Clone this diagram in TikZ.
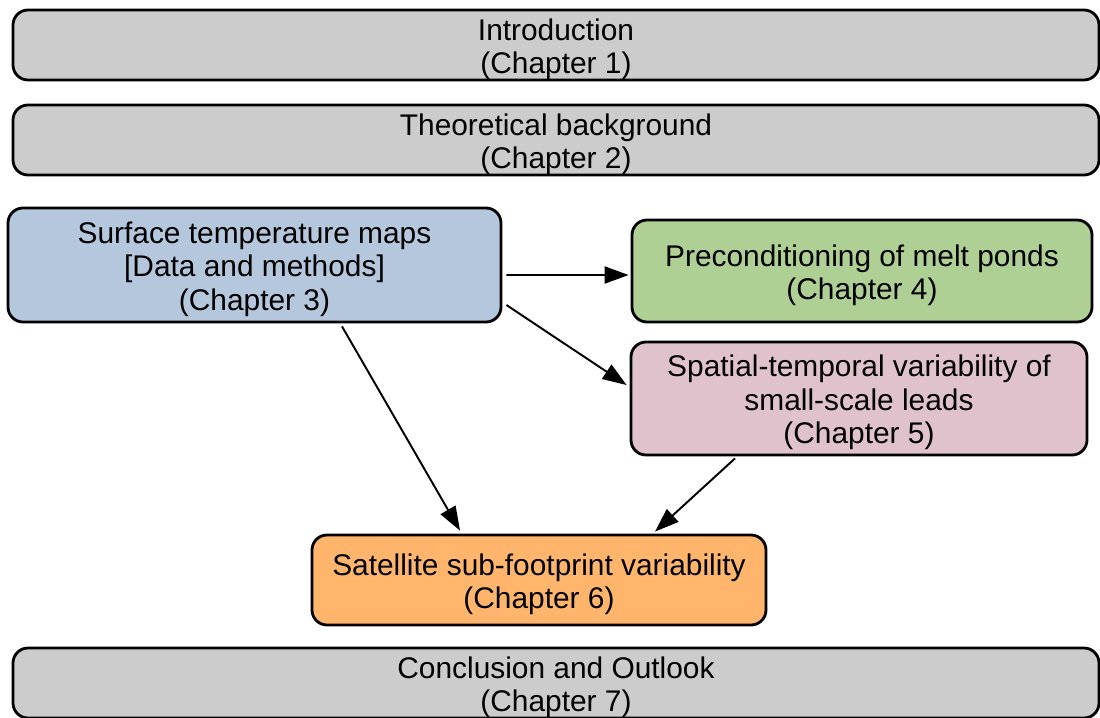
\documentclass[tikz,border=0pt]{standalone}
\usepackage{fontspec}
\setmainfont{Liberation Sans}
\usetikzlibrary{arrows.meta}
\definecolor{chapgray}{HTML}{CCCCCC}
\definecolor{chapblue}{HTML}{B4C7DC}
\definecolor{chapgreen}{HTML}{AFD095}
\definecolor{chappink}{HTML}{E0C2CD}
\definecolor{chaporange}{HTML}{FFB66C}
\newcommand{\chapstrut}{\rule{0pt}{17pt}}

\begin{document}
\begin{tikzpicture}[
        chapbox/.style={draw, line width=1.6pt, rounded corners=0.3cm, align=center,
            inner sep=0pt, font=\fontsize{17}{19}\selectfont},
        flow/.style={line width=1.1pt, -{Triangle[length=0.48cm, width=0.34cm]}}
    ]
    \useasboundingbox (0, 0) rectangle (22, -14.34);
    \node[chapbox, fill=chapgray, minimum width=21.72cm, minimum height=1.4cm] (intro) at (11.12, -0.9)
        {\chapstrut Introduction\\(Chapter 1)};
    \node[chapbox, fill=chapgray, minimum width=21.72cm, minimum height=1.4cm] (theory) at (11.12, -2.8)
        {\chapstrut Theoretical background\\(Chapter 2)};
    \node[chapbox, fill=chapblue, minimum width=9.86cm, minimum height=2.28cm] (surface) at (5.09, -5.3)
        {\chapstrut Surface temperature maps\\{[Data and methods]}\\(Chapter 3)};
    \node[chapbox, fill=chapgreen, minimum width=9.2cm, minimum height=2.04cm] (melt) at (17.24, -5.42)
        {\chapstrut Preconditioning of melt ponds\\(Chapter 4)};
    \node[chapbox, fill=chappink, minimum width=9.12cm, minimum height=2.26cm] (leads) at (17.18, -7.97)
        {\chapstrut Spatial-temporal variability of\\small-scale leads\\(Chapter 5)};
    \node[chapbox, fill=chaporange, minimum width=9.08cm, minimum height=1.8cm] (footprint) at (10.78, -11.6)
        {\chapstrut Satellite sub-footprint variability\\(Chapter 6)};
    \node[chapbox, fill=chapgray, minimum width=21.72cm, minimum height=1.4cm] (outlook) at (11.12, -13.66)
        {\chapstrut Conclusion and Outlook\\(Chapter 7)};

    \draw[flow] ([shift={(0.08, -0.2)}]surface.east) -- ([shift={(-0.04, -0.08)}]melt.west);
    \draw[flow] ([shift={(0.08, -0.8)}]surface.east) -- ([shift={(-0.06, 0.27)}]leads.west);
    \draw[flow] ([shift={(1.75, -0.06)}]surface.south) -- ([shift={(-1.58, 0.06)}]footprint.north);
    \draw[flow] ([shift={(-2.48, -0.04)}]leads.south) -- ([shift={(2.32, 0.04)}]footprint.north);
\end{tikzpicture}
\end{document}
